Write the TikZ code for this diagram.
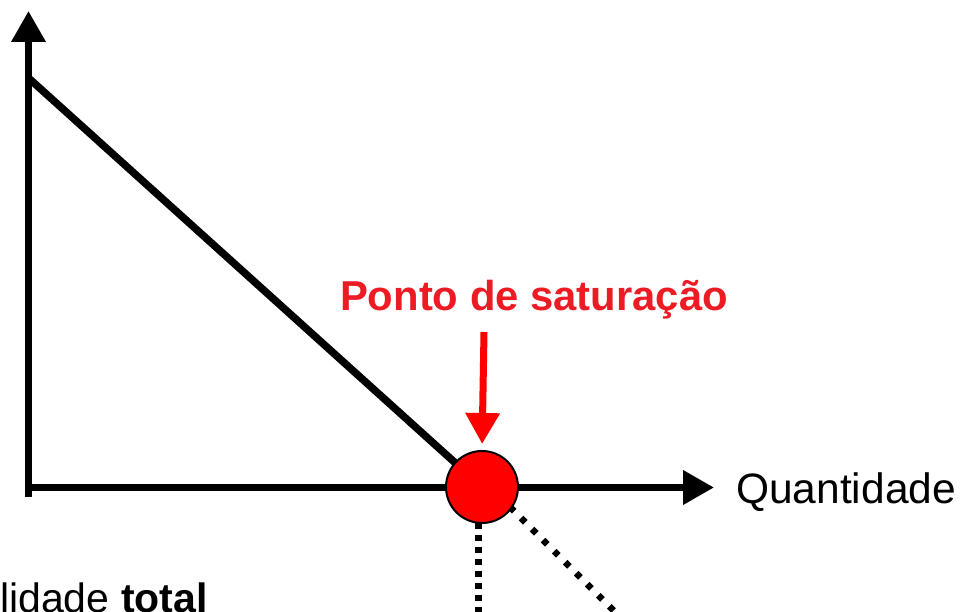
\documentclass[tikz,border=0pt]{standalone}
\usepackage{fontspec}
\setmainfont{Liberation Sans}
\usetikzlibrary{arrows.meta}
\definecolor{lblred}{RGB}{237,28,36}
\definecolor{ptred}{RGB}{255,0,0}
\begin{document}
\begin{tikzpicture}[x=1pt,y=-1pt,
  axis/.style={line width=7pt, -{Triangle[length=31pt,width=33pt]}},
  curveline/.style={line width=7.5pt},
  vdots/.style={line width=6.5pt, dash pattern=on 6pt off 6pt},
  ddots/.style={line width=6.5pt, dash pattern=on 6pt off 9.6pt},
  redarrow/.style={draw=ptred, line width=7pt, -{Triangle[length=31pt,width=33pt]}},
  satpoint/.style={circle, draw=black, line width=2pt, fill=ptred, minimum size=72pt, inner sep=0pt},
  biglabel/.style={inner sep=0pt, font=\fontsize{42.5pt}{50pt}\selectfont},
  botlabel/.style={inner sep=0pt, font=\fontsize{41pt}{49pt}\selectfont},
  redlabel/.style={inner sep=0pt, text=lblred, font=\fontsize{41.8pt}{50pt}\selectfont\bfseries}]
\useasboundingbox (0,0) rectangle (965,612);
\clip (0,0) rectangle (965,612);
\coordinate (ybot) at (28.5,497);
\coordinate (ytip) at (28.5,11);
\coordinate (O) at (28.5,487.5);
\coordinate (xtip) at (714,487.5);
\coordinate (dtop) at (28.5,78);
\coordinate (Sc) at (482,487);
\coordinate (vstart) at (478.5,523);
\coordinate (vend) at (478.5,630);
\coordinate (dstart) at (510,507);
\coordinate (dend) at (630,627);
\coordinate (rs) at (484,332);
\draw[axis] (ybot) -- (ytip);
\draw[axis] (O) -- (xtip);
\draw[curveline] (dtop) -- (Sc);
\draw[vdots] (vstart) -- (vend);
\draw[ddots] (dstart) -- (dend);
\node[satpoint] (S) at (Sc) {};
\node[redlabel, anchor=base] (L) at (534,310) {Ponto de saturação};
\draw[redarrow, shorten >=6pt] (rs) -- (S.north);
\node[biglabel, anchor=base west] (Q) at (736,503) {Quantidade};
\node[botlabel, anchor=base west] (U) at (0,612) {lidade \textbf{total}};
\end{tikzpicture}
\end{document}
